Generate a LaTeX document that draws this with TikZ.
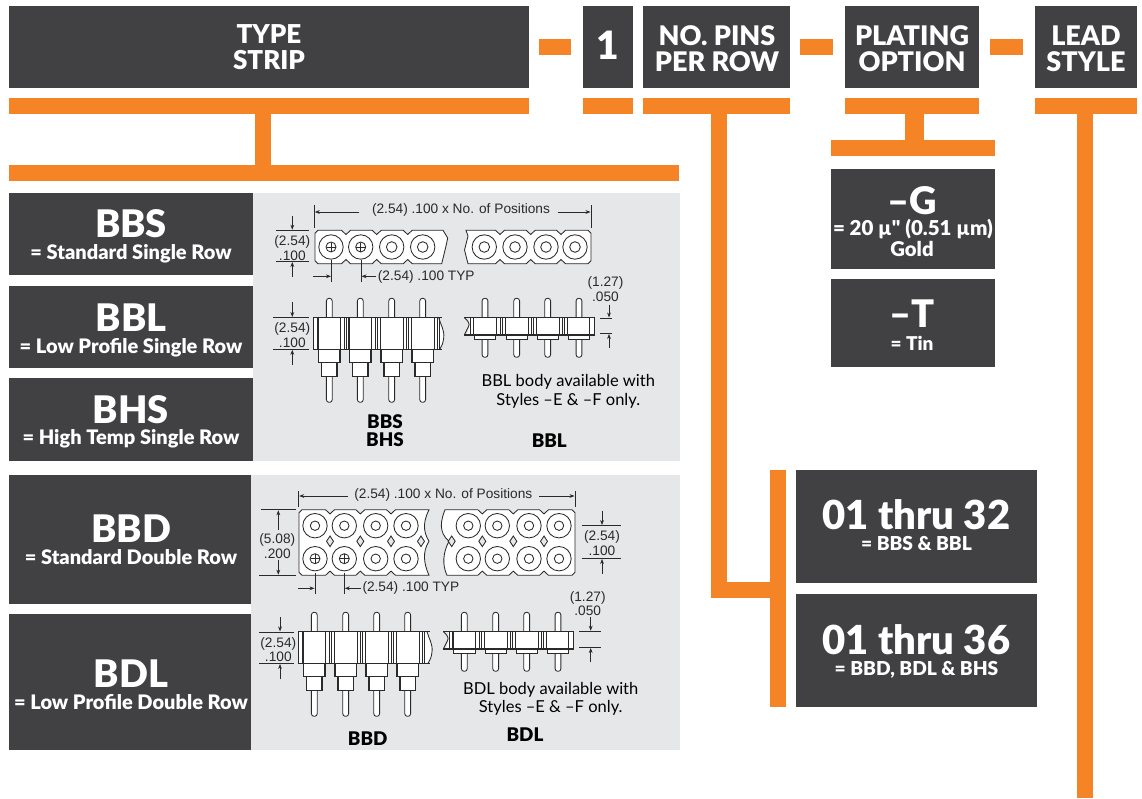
\documentclass[tikz,border=0pt]{standalone}
\usepackage{fontspec}
\usetikzlibrary{arrows.meta}
\setmainfont{Lato}
\newfontfamily\lblack{Lato Black}
\newfontfamily\helv{Liberation Sans}
\definecolor{darkbox}{HTML}{414042}
\definecolor{orangebar}{HTML}{F58426}
\definecolor{panelgray}{HTML}{E6E7E8}
\definecolor{inkline}{HTML}{2A2A2B}
\newcommand{\fsz}[1]{\fontsize{#1}{#1}\selectfont}
\tikzset{
  bar/.style={fill=orangebar,draw=none},
  panel/.style={fill=panelgray,draw=none},
  dbox/.style={fill=darkbox,draw=none},
  wt/.style={text=white,inner sep=0pt,anchor=base,font=\lblack\fsz{#1}},
  wt/.default=27,
  wtb/.style={wt=#1,yshift=-1pt},
  dimtext/.style={text=inkline,inner sep=0pt,anchor=center,yshift=-1.2pt,font=\helv\fsz{13.7}},
  note/.style={text=black,inner sep=0pt,anchor=center,yshift=-1.2pt,font=\fsz{16.5}},
  tag/.style={text=black,inner sep=0pt,anchor=center,font=\lblack\fsz{18.8}},
  dl/.style={draw=inkline,line width=0.85pt},
  thk/.style={draw=inkline,line width=1.15pt},
  dima/.style={draw=inkline,line width=0.7pt,-{Stealth[length=5pt,width=3.8pt]}},
}
% top-view hole
\newcommand{\hole}[3]{%
  \draw[dl,fill=white] (#1,#2) circle (12.2);
  \draw[dl,fill=white] (#1,#2) circle (#3);}
\newcommand{\crosshole}[2]{%
  \hole{#1}{#2}{5}
  \draw[dl] (#1-4.5,#2) -- (#1+4.5,#2) (#1,#2-4.5) -- (#1,#2+4.5);}
% tall side view: #1 centres, #2 dy, #3 x0, #4 x1
\newcommand{\tallside}[4]{%
  \foreach \c in {#1}{
    \draw[dl,fill=white,rounded corners=2.6pt] (\c-2.9,298.3+#2) rectangle (\c+2.9,402.3+#2);
    \draw[thk,fill=white] (\c-10.7,349.3+#2) rectangle (\c+10.7,362.7+#2);
    \draw[thk,fill=white] (\c-7.7,362.7+#2) rectangle (\c+7.7,376.7+#2);
  }
  \fill[white] (#3,317.7+#2) -- (#4,317.7+#2) -- (#4-3,317.7+#2) .. controls (#4-1,325+#2) and (#4+3,330+#2) .. (#4+2,338+#2) .. controls (#4+1,344+#2) .. (#4-2,349.3+#2) -- (#3,349.3+#2) -- cycle;
  \draw[thk] (#3,317.7+#2) -- (#4,317.7+#2) (#3,349.3+#2) -- (#4,349.3+#2) (#3,317.7+#2) -- (#3,349.3+#2);
  \draw[dl] (#4-3,317.7+#2) .. controls (#4-1,325+#2) and (#4+3,330+#2) .. (#4+2,338+#2) .. controls (#4+1,344+#2) .. (#4-2,349.3+#2);
  \foreach \c in {#1}{
    \draw[thk] (\c-11.3,317.7+#2) -- (\c-11.3,349.3+#2) (\c+17.2,317.7+#2) -- (\c+17.2,349.3+#2);
    \draw[dl] (\c+11.5,317.7+#2) -- (\c+11.5,349.3+#2) (\c+15,317.7+#2) -- (\c+15,349.3+#2);
  }}
% short side view: #1 centres but last, #2 last centre, #3 dy, #4 x0, #5 x1
\newcommand{\shortside}[5]{%
  \foreach \c in {#1,#2}{
    \draw[dl,fill=white,rounded corners=2.6pt] (\c-2.9,298.3+#3) rectangle (\c+2.9,357.3+#3);
    \draw[dl,fill=white] (\c-10.7,335+#3) rectangle (\c+10.7,339.3+#3);
  }
  \fill[white] (#4+5,317.7+#3) -- (#5,317.7+#3) -- (#5,335+#3) -- (#4+3,335+#3) -- (#4+5,326+#3) -- cycle;
  \draw[thk] (#4,317.7+#3) -- (#5,317.7+#3) -- (#5,335+#3) -- (#4,335+#3);
  \draw[dl] (#4,317.7+#3) .. controls (#4+4,321+#3) and (#4+6,324+#3) .. (#4+4,327+#3) -- (#4,335+#3);
  \draw[dl] (\FirstC-15,317.7+#3) -- (\FirstC-15,335+#3);
  \foreach \c in {#1}{
    \draw[thk] (\c-11.3,317.7+#3) -- (\c-11.3,335+#3) (\c+17.2,317.7+#3) -- (\c+17.2,335+#3);
    \draw[dl] (\c+11.5,317.7+#3) -- (\c+11.5,335+#3) (\c+15,317.7+#3) -- (\c+15,335+#3);
  }
  \draw[thk] (#2-11.3,317.7+#3) -- (#2-11.3,335+#3);
  \draw[dl] (#2+10.5,317.7+#3) -- (#2+10.5,335+#3);}
\begin{document}
\begin{tikzpicture}[x=1pt,y=-1pt]
\useasboundingbox (0,0) rectangle (1142,798);
\fill[white] (0,0) rectangle (1142,798);

% ---- orange bars
\fill[bar] (539,39) rectangle (571,55);
\fill[bar] (800,39) rectangle (833,55);
\fill[bar] (990,39) rectangle (1023,55);
\fill[bar] (9,98) rectangle (529,114);
\fill[bar] (583,98) rectangle (633,114);
\fill[bar] (643,98) rectangle (790,114);
\fill[bar] (845,98) rectangle (979,114);
\fill[bar] (1035,98) rectangle (1137,114);
\fill[bar] (255,114) rectangle (271,165);
\fill[bar] (9,165) rectangle (679,181);
\fill[bar] (905,114) rectangle (924,140);
\fill[bar] (831,140) rectangle (995,156);
\fill[bar] (1077,114) rectangle (1093,798);
\fill[bar] (711,114) rectangle (727,598);
\fill[bar] (727,582) rectangle (770,598);
\fill[bar] (770,470) rectangle (786,707);

% ---- panels
\fill[panel] (253,193) rectangle (680,461);
\fill[panel] (251,475) rectangle (680,750);

% ---- dark boxes
\fill[dbox] (9,6) rectangle (529,88);
\fill[dbox] (583,6) rectangle (633,88);
\fill[dbox] (643,6) rectangle (790,88);
\fill[dbox] (845,6) rectangle (979,88);
\fill[dbox] (1035,6) rectangle (1137,88);
\fill[dbox] (9,193) rectangle (253,275);
\fill[dbox] (9,286) rectangle (253,368);
\fill[dbox] (9,378) rectangle (253,461);
\fill[dbox] (9,475) rectangle (251,604);
\fill[dbox] (9,614) rectangle (251,750);
\fill[dbox] (831,169) rectangle (995,269);
\fill[dbox] (831,279) rectangle (995,367);
\fill[dbox] (796,470) rectangle (1037,583);
\fill[dbox] (796,594) rectangle (1037,707);

% ---- header texts
\node[wt=26] (t1) at (269,43) {TYPE};
\node[wt=26] (t2) at (269,69) {STRIP};
\node[wt=39] (t3) at (608,59) {1};
\node[wt] (t4) at (717,45) {NO. PINS};
\node[wt] (t5) at (717,71.5) {PER ROW};
\node[wt] (t6) at (912,45) {PLATING};
\node[wt] (t7) at (912,71.5) {OPTION};
\node[wt] (t8) at (1086,45) {LEAD};
\node[wt] (t9) at (1086,71.5) {STYLE};

% ---- left texts
\node[wtb=38] (bbs) at (131,236.5) {BBS};
\node[wtb=20] (bbsd) at (131,258) {= Standard Single Row};
\node[wtb=38] (bbl) at (131,330) {BBL};
\node[wtb=20] (bbld) at (131,352) {= Low Profile Single Row};
\node[wtb=38] (bhs) at (131,422) {BHS};
\node[wtb=20] (bhsd) at (131,443) {= High Temp Single Row};
\node[wtb=38] (bbd) at (131,541) {BBD};
\node[wtb=20] (bbdd) at (131,563) {= Standard Double Row};
\node[wtb=38] (bdl) at (131,686) {BDL};
\node[wtb=20] (bdld) at (131,708) {= Low Profile Double Row};

% ---- plating & pins texts
\node[wtb=38] (g) at (912,213) {–G};
\node[wt=20.5] (gd) at (913,235) {= 20 µ" (0.51 µm)};
\node[wtb=20.3] (gd2) at (912,255.5) {Gold};
\node[wtb=38] (tn) at (912,326.7) {–T};
\node[wtb=19] (tnd) at (912,349) {= Tin};
\node[wtb=40] (p1) at (916.5,528) {01 thru 32};
\node[wtb=19.2] (p1d) at (916.5,549) {= BBS \& BBL};
\node[wtb=40] (p2) at (916.5,653) {01 thru 36};
\node[wtb=19.2] (p2d) at (916.5,674) {= BBD, BDL \& BHS};

% ---- BBS top view
\draw[dl,fill=white] (315,233.3) -- (318,230.3)
  \foreach \m in {346,376.7,407.7}{ -- (\m-4.5,230.3) -- (\m,234.5) -- (\m+4.5,230.3) }
  -- (443,230.3) -- (447.7,238) -- (446,246) -- (441.7,263.7)
  \foreach \m in {407.7,376.7,346}{ -- (\m+4.5,263.7) -- (\m,259.5) -- (\m-4.5,263.7) }
  -- (318,263.7) -- (315,260.7) -- cycle;
\draw[dl,fill=white] (466,230.3)
  \foreach \m in {500,530.7,561}{ -- (\m-4.5,230.3) -- (\m,234.5) -- (\m+4.5,230.3) }
  -- (588,230.3) -- (591,233.3) -- (591,260.7) -- (588,263.7)
  \foreach \m in {561,530.7,500}{ -- (\m+4.5,263.7) -- (\m,259.5) -- (\m-4.5,263.7) }
  -- (468,263.7) -- (464.5,250) -- (468,236) -- cycle;
\crosshole{331}{247}
\crosshole{360.7}{247}
\foreach \c in {391.7,422.7,484.3,515,546,575}{\hole{\c}{247}{5.3}}

% BBS dims
\draw[dl] (314.3,205) -- (314.3,228) (591,205) -- (591,228);
\draw[dima] (359,212) -- (314.8,212);
\draw[dima] (557.7,212) -- (590.5,212);
\node[dimtext] (d1) at (461,209) {(2.54) .100 x No. of Positions};
\draw[dl] (275.7,230.3) -- (309,230.3) (275.7,261.3) -- (309,261.3);
\draw[dima] (292.3,215.7) -- (292.3,229.7);
\draw[dima] (292.3,277) -- (292.3,262);
\node[dimtext] (d2) at (292.3,240.7) {(2.54)};
\node[dimtext] (d3) at (292.3,254.3) {.100};
\draw[dl] (331.3,260) -- (331.3,282.3) (361,260) -- (361,282.3);
\draw[dima] (313,276.3) -- (331,276.3);
\draw[dima] (375.7,276.3) -- (361.5,276.3);
\node[dimtext,anchor=west] (d4) at (377.7,275.7) {(2.54) .100 TYP};
\node[dimtext] (d5) at (605.5,282) {(1.27)};
\node[dimtext] (d6) at (605.5,295.3) {.050};
\draw[dima] (609,304.7) -- (609,317.5);
\draw[dl] (600,318.3) -- (612.3,318.3) (600,333.3) -- (612.3,333.3);
\draw[dima] (609,348.3) -- (609,334);

% ---- BBS/BBL side views
\tallside{329.3,360.3,391.7,422.7}{0}{313.3}{441.7}
\def\FirstC{485}
\shortside{485,516.7,547.7}{579}{0}{464.3}{594.3}
\draw[dl] (273.3,317.7) -- (309,317.7) (273.3,349) -- (309,349);
\draw[dima] (292.3,302.3) -- (292.3,317);
\draw[dima] (292.3,365) -- (292.3,349.8);
\node[dimtext] (d7) at (292.3,327.3) {(2.54)};
\node[dimtext] (d8) at (292.3,341.7) {.100};
\node[note] (n1) at (568.3,381) {BBL body available with};
\node[note] (n2) at (568.3,400) {Styles –E \& –F only.};
\node[tag] (l1) at (385,421.7) {BBS};
\node[tag] (l2) at (385,439.3) {BHS};
\node[tag] (l3) at (549.3,440.7) {BBL};

% ---- BBD top view
\draw[dl,fill=white] (299,512.7) -- (302,509.7)
  \foreach \m in {330,360.3,391}{ -- (\m-4.5,509.7) -- (\m,513.9) -- (\m+4.5,509.7) }
  -- (429,509.7) .. controls (424,520) and (422,530) .. (429,541.3) .. controls (422,552) and (424,564) .. (429,575.3)
  \foreach \m in {391,360.3,330}{ -- (\m+4.5,575.3) -- (\m,571.1) -- (\m-4.5,575.3) }
  -- (302,575.3) -- (299,572.3) -- cycle;
\draw[dl,fill=white] (445,509.7)
  \foreach \m in {482.3,513.3,544}{ -- (\m-4.5,509.7) -- (\m,513.9) -- (\m+4.5,509.7) }
  -- (572,509.7) -- (575,512.7) -- (575,572.3) -- (572,575.3)
  \foreach \m in {544,513.3,482.3}{ -- (\m+4.5,575.3) -- (\m,571.1) -- (\m-4.5,575.3) }
  -- (447,575.3) .. controls (442,565) and (443,552) .. (449,541.3) .. controls (438,532) and (441,520) .. (445,509.7) -- cycle;
\foreach \c in {315,344.3,375.7,406,468.3,497.3,529,559}{\hole{\c}{525.7}{4.7}}
\foreach \c in {375.7,406,468.3,497.3,529,559}{\hole{\c}{558.7}{4.7}}
\crosshole{315}{558.7}
\crosshole{344.3}{558.7}
\foreach \c in {330,360.3,391,421,451.7,482.3,513.3,544}{
  \draw[dl,fill=panelgray] (\c-3.5,541.3) -- (\c,536) -- (\c+3.5,541.3) -- (\c,546.6) -- cycle;}

% BBD dims
\draw[dl] (298.7,491.3) -- (298.7,507) (575,491.3) -- (575,507);
\draw[dima] (347.7,496) -- (299.2,496);
\draw[dima] (539,496) -- (574.5,496);
\node[dimtext] (e1) at (443.3,493.3) {(2.54) .100 x No. of Positions};
\draw[dl] (261,509.7) -- (295.7,509.7) (259,575.3) -- (295.7,575.3);
\draw[dima] (278.3,529.7) -- (278.3,510.3);
\draw[dima] (278.3,559.7) -- (278.3,574.7);
\node[dimtext] (e2) at (277.3,538.7) {(5.08)};
\node[dimtext] (e3) at (277.3,552.7) {.200};
\draw[dl] (581.7,525.7) -- (621,525.7) (581.7,558.3) -- (621,558.3);
\draw[dima] (602,510.7) -- (602,525);
\draw[dima] (602,574) -- (602,559);
\node[dimtext] (e4) at (602,535.7) {(2.54)};
\node[dimtext] (e5) at (602,549.7) {.100};
\draw[dl] (315,573) -- (315,594) (344.3,573) -- (344.3,594);
\draw[dima] (298.3,588.3) -- (314.5,588.3);
\draw[dima] (361,588.3) -- (344.8,588.3);
\node[dimtext,anchor=west] (e6) at (362.3,587) {(2.54) .100 TYP};
\node[dimtext] (e7) at (587.7,596.7) {(1.27)};
\node[dimtext] (e8) at (587.7,609.3) {.050};

% ---- BBD/BDL side views
\tallside{314.3,345.7,376.7,407.7}{314}{298.3}{430}
\def\FirstC{464.3}
\shortside{464.3,495.7,526.7}{558}{314}{443.3}{573.3}
\draw[dl] (259,632) -- (294.3,632) (259,663.3) -- (294.3,663.3);
\draw[dima] (280,617.3) -- (280,631.4);
\draw[dima] (280,679) -- (280,664);
\node[dimtext] (e9) at (278.3,642.3) {(2.54)};
\node[dimtext] (e10) at (278.3,655.7) {.100};
\draw[dl,line width=1pt] (579.3,631.7) -- (600.7,631.7);
\draw[dl] (579.3,647.3) -- (600.7,647.3);
\draw[dima] (590.7,617.3) -- (590.7,630.7);
\draw[dima] (590.7,662.3) -- (590.7,648);
\node[note] (n3) at (550.7,688.7) {BDL body available with};
\node[note] (n4) at (550.7,707) {Styles –E \& –F only.};
\node[tag] (l4) at (367.7,738.7) {BBD};
\node[tag] (l5) at (525,734.7) {BDL};
\end{tikzpicture}
\end{document}
